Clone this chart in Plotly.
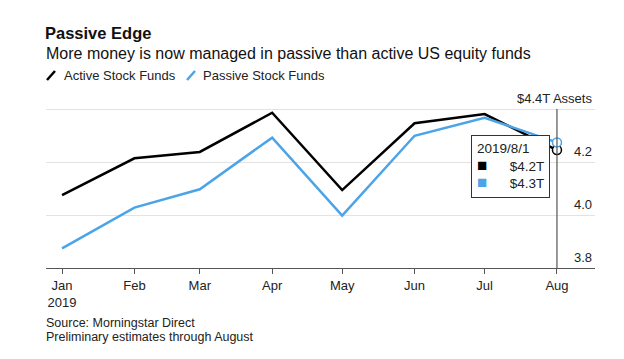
import plotly.graph_objects as go

dates = ["2019-01-01", "2019-02-01", "2019-03-01", "2019-04-01",
         "2019-05-01", "2019-06-01", "2019-07-01", "2019-08-01"]
month_labels = ["Jan<br>2019", "Feb", "Mar", "Apr", "May", "Jun", "Jul", "Aug"]
active = [4.075, 4.214, 4.238, 4.386, 4.094, 4.346, 4.381, 4.245]
passive = [3.874, 4.028, 4.097, 4.292, 3.998, 4.299, 4.367, 4.274]
series_names = ["Active Stock Funds", "Passive Stock Funds"]
y_ticks = [3.8, 4.0, 4.2, 4.4]
y_ticktext = ["3.8", "4.0", "4.2", "$4.4T Assets"]

BLACK = "#000000"
BLUE = "#4ba4e8"
FONT = "Liberation Sans, Arial, Helvetica, sans-serif"

# page body has an 8px margin; figure is sized to the visible area
W, H = 616, 351
ML, MR, MT, MB = 38, 29, 80, 91
PW = W - ML - MR
PH = H - MT - MB


def px_x(xf):
    return (xf - ML) / PW


def px_y(yf):
    return (H - MB - yf) / PH


fig = go.Figure()
fig.add_trace(go.Scatter(x=dates, y=active, mode="lines", name=series_names[0],
                         showlegend=False, line=dict(color=BLACK, width=2.5)))
fig.add_trace(go.Scatter(x=dates, y=passive, mode="lines", name=series_names[1],
                         showlegend=False, line=dict(color=BLUE, width=2.5)))

# hover state at the last point
fig.add_shape(type="line", xref="x", yref="y", x0=dates[-1], x1=dates[-1],
              y0=y_ticks[0] - 0.016, y1=y_ticks[-1],
              line=dict(color="#555555", width=1.2), layer="above")
fig.add_trace(go.Scatter(x=[dates[-1]], y=[active[-1]], mode="markers", showlegend=False,
                         marker=dict(size=9, color="white", line=dict(color=BLACK, width=1.5))))
fig.add_trace(go.Scatter(x=[dates[-1]], y=[passive[-1]], mode="markers", showlegend=False,
                         marker=dict(size=9, color="white", line=dict(color=BLUE, width=1.5))))

sq = "<span style='color:{c};font-size:17px'>■</span>"
tip = ("2019/8/1<br>"
       + sq.format(c=BLACK) + f"      ${active[-1]:.1f}T<br>"
       + sq.format(c=BLUE) + f"      ${passive[-1]:.1f}T")
fig.add_annotation(x=dates[-1], y=px_y(158), xref="x", yref="paper",
                   text=tip, showarrow=False, xanchor="right", yanchor="middle", xshift=-7,
                   align="left", bgcolor="white", bordercolor="#333333", borderwidth=1,
                   borderpad=5, font=dict(family=FONT, size=13.5, color="#222222"))

# custom legend (slanted stroke icons)
legend_icons = [(39, 47, BLACK), (179, 187, BLUE)]
legend_text_x = [55, 194]
for (x0, x1, col), tx, name in zip(legend_icons, legend_text_x, series_names):
    fig.add_shape(type="line", xref="paper", yref="paper",
                  x0=px_x(x0), x1=px_x(x1), y0=px_y(72), y1=px_y(63),
                  line=dict(color=col, width=2.5))
    fig.add_annotation(text=name, xref="paper", yref="paper", x=px_x(tx - 1), y=px_y(67),
                       xanchor="left", yanchor="middle", showarrow=False,
                       font=dict(family=FONT, size=13, color="#222222"))

fig.add_annotation(text="More money is now managed in passive than active US equity funds",
                   xref="paper", yref="paper", x=px_x(36), y=px_y(45), xanchor="left",
                   yanchor="middle", showarrow=False,
                   font=dict(family=FONT, size=16, color="#111111"))
fig.add_annotation(text="Source: Morningstar Direct", xref="paper", yref="paper",
                   x=px_x(36), y=px_y(315), xanchor="left", yanchor="middle", showarrow=False,
                   font=dict(family=FONT, size=12.5, color="#222222"))
fig.add_annotation(text="Preliminary estimates through August", xref="paper", yref="paper",
                   x=px_x(36), y=px_y(329), xanchor="left", yanchor="middle", showarrow=False,
                   font=dict(family=FONT, size=12.5, color="#222222"))

# y tick labels, right-aligned above each gridline
for v, t in zip(y_ticks, y_ticktext):
    fig.add_annotation(text=t, xref="paper", yref="y", x=px_x(586), y=v, xanchor="right",
                       yanchor="bottom", yshift=1, showarrow=False,
                       font=dict(family=FONT, size=13, color="#222222"))

fig.update_layout(
    width=W, height=H,
    margin=dict(l=ML, r=MR, t=MT, b=MB),
    paper_bgcolor="white", plot_bgcolor="white",
    font=dict(family=FONT, size=13, color="#222222"),
    title=dict(text="<b>Passive Edge</b>", x=37 / W, xanchor="left", xref="container",
               y=1 - 25 / H, yanchor="middle", yref="container",
               font=dict(family=FONT, size=16.5, color="#111111")),
    showlegend=False,
    hovermode=False,
    xaxis=dict(type="date", range=["2018-12-25 03:00", "2019-08-17 07:00"],
               tickvals=dates, ticktext=month_labels, tickangle=0,
               showgrid=False, zeroline=False, showline=True, linecolor="#555555", linewidth=1.2,
               ticks="outside", ticklen=5, tickcolor="#555555", tickwidth=1.2,
               tickfont=dict(family=FONT, size=13, color="#222222")),
    yaxis=dict(range=[3.8, 4.4 + 21 / 265], side="right", tickvals=y_ticks,
               showticklabels=False, showgrid=True, gridcolor="#e3e3e3", gridwidth=1,
               zeroline=False, showline=False, ticks=""),
)

fig.write_html("out.html")
